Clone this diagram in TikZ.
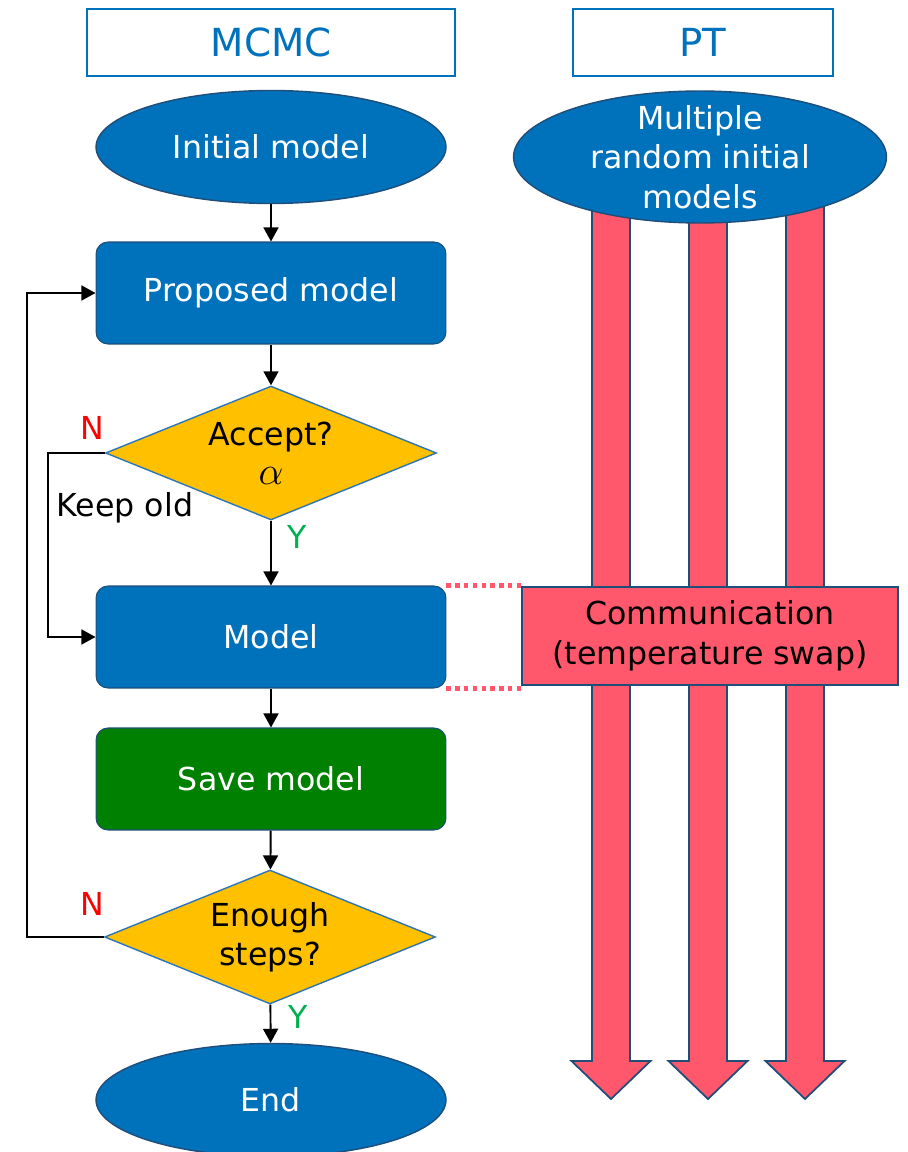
\documentclass[tikz,border=0pt]{standalone}
\usepackage{fontspec}
\setmainfont{DejaVu Sans}
\usetikzlibrary{shapes.geometric,arrows.meta}

\definecolor{mcblue}{RGB}{0,114,187}
\definecolor{edgeblue}{RGB}{31,78,121}
\definecolor{lineblue}{RGB}{46,117,182}
\definecolor{askgold}{RGB}{255,192,0}
\definecolor{savegreen}{RGB}{0,128,0}
\definecolor{swapred}{RGB}{255,87,107}
\definecolor{yesgreen}{RGB}{0,176,80}

\begin{document}
\begin{tikzpicture}[>={Triangle[length=8pt,width=8.5pt]},x=0.02cm,y=-0.02cm,
	every node/.style={font=\fontsize{18}{22}\selectfont},
	head/.style={draw=mcblue,line width=0.8pt,text=mcblue,font=\fontsize{22}{26}\selectfont,minimum height=1.34cm},
	startend/.style={ellipse,draw=edgeblue,line width=0.8pt,fill=mcblue,text=white,minimum width=7cm,minimum height=2.26cm,inner sep=0pt,align=center},
	stepbox/.style={rectangle,rounded corners=0.24cm,draw=edgeblue,line width=0.6pt,fill=mcblue,text=white,minimum width=7cm,minimum height=2.04cm},
	askbox/.style={diamond,draw=lineblue,line width=0.8pt,fill=askgold,minimum width=6.62cm,minimum height=2.68cm,inner sep=0pt,align=center,aspect=2.47},
	flow/.style={->,line width=1.1pt},
	bigarrow/.style={draw=edgeblue,fill=swapred,line width=1pt}]
		\useasboundingbox (0,0) rectangle (908,1152);
		% headers
		\node[head,minimum width=7.36cm] (mcmc) at (271,42.5) {MCMC};
		\node[head,minimum width=5.2cm] (pt) at (703,42.5) {PT};
		% PT chains
		\foreach \c in {611,708,805}
			\draw[bigarrow] (\c-19,190) -- (\c-19,1061) -- (\c-39.5,1061) -- (\c,1099) -- (\c+39.5,1061) -- (\c+19,1061) -- (\c+19,190) -- cycle;
		\node[startend,minimum width=7.46cm,minimum height=2.64cm,inner ysep=-0.17cm,font=\fontsize{18}{22.5}\selectfont] (multi) at (700,157) {Multiple\\random initial\\models};
		\node[draw=edgeblue,fill=swapred,line width=1pt,minimum width=7.52cm,minimum height=1.96cm,align=center,font=\fontsize{18}{23}\selectfont] (comm) at (710,636) {Communication\\(temperature swap)};
		% MCMC chain
		\node[startend] (init) at (271,147) {Initial model};
		\node[stepbox] (prop) at (271,293) {Proposed model};
		\node[askbox] (accept) at (271,453) {Accept?\\\scalebox{1.3}{$\alpha$}};
		\node[stepbox] (model) at (271,637) {Model};
		\node[stepbox,fill=savegreen] (save) at (271,779) {Save model};
		\node[askbox] (enough) at (270,937) {Enough\\steps?};
		\node[startend] (end) at (271,1100) {End};
		\draw[flow] (init) -- (prop);
		\draw[flow] (prop) -- (accept);
		\draw[flow] (accept) -- (model);
		\draw[flow] (model) -- (save);
		\draw[flow] (save) -- (enough);
		\draw[flow] (enough) -- (end);
		% loops
		\coordinate (outer) at (27,600);
		\coordinate (inner) at (48,540);
		\draw[flow] (enough.west) -| (outer) |- (prop.west);
		\draw[flow] (accept.west) -| (inner) |- (model.west);
		\node (keep) at (125,508) {Keep old};
		\node[text=red] (no1) at (92,428) {N};
		\node[text=red] (no2) at (92,904) {N};
		\node[text=yesgreen] (yes1) at (297,537) {Y};
		\node[text=yesgreen] (yes2) at (298,1017) {Y};
		% link to swap
		\draw[swapred,line width=2.5pt,dash pattern=on 2.5pt off 2.5pt] (model.north east) -- (model.north east -| comm.west);
		\draw[swapred,line width=2.5pt,dash pattern=on 2.5pt off 2.5pt] (model.south east) -- (model.south east -| comm.west);
\end{tikzpicture}
\end{document}
